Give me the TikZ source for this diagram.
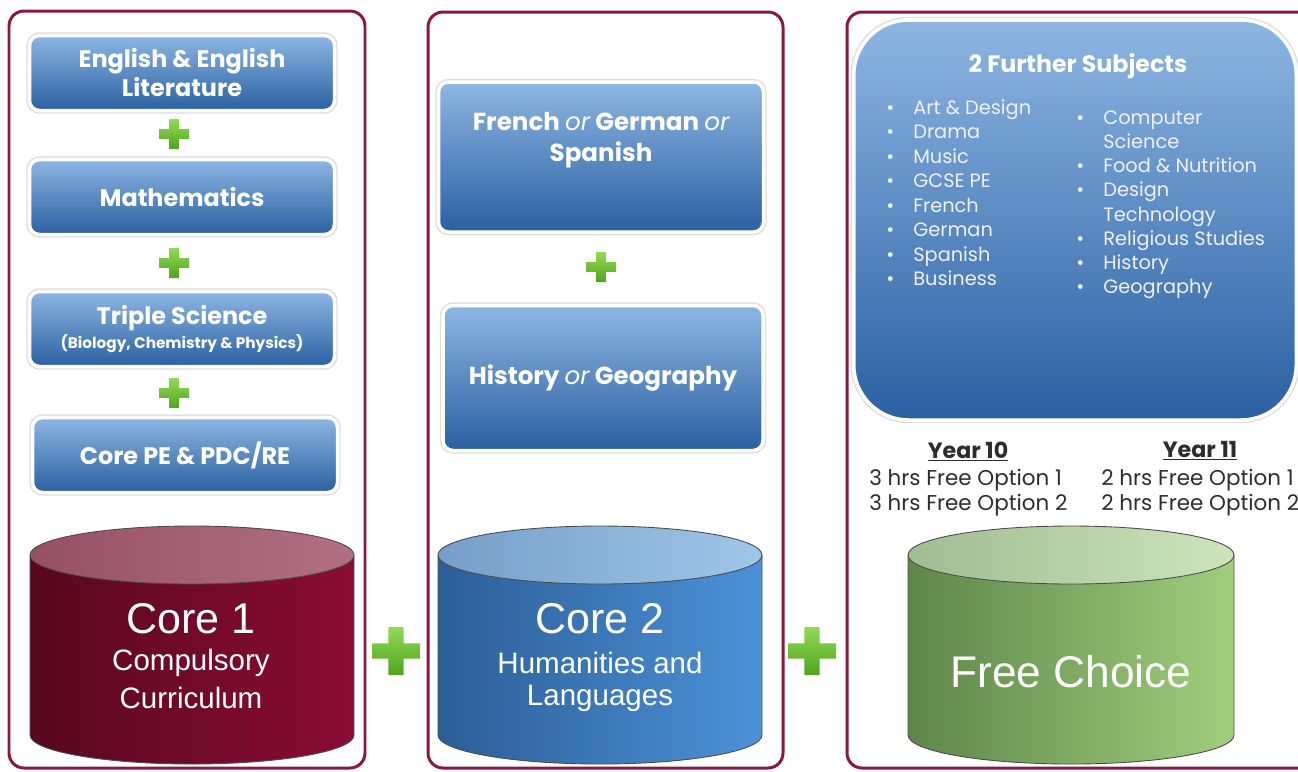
\documentclass[tikz,border=0pt]{standalone}
\usepackage{fontspec}
\setmainfont{Poppins}
\newfontfamily\arialfont{Liberation Sans}
\usepackage{tikz}
\usetikzlibrary{positioning, calc, shapes}

\definecolor{panelred}{RGB}{139,24,60}
\definecolor{boxtop}{RGB}{141,182,226}
\definecolor{boxmid}{RGB}{88,145,207}
\definecolor{boxbot}{RGB}{42,96,162}
\definecolor{plustop}{RGB}{146,218,86}
\definecolor{plusbot}{RGB}{80,165,30}
\definecolor{yeargray}{RGB}{45,45,45}
% drum colours: side left/right, top left/right
\definecolor{redsideL}{RGB}{88,8,30}
\definecolor{redsideR}{RGB}{138,12,52}
\definecolor{redtopL}{RGB}{150,80,102}
\definecolor{redtopR}{RGB}{178,112,132}
\definecolor{bluesideL}{RGB}{44,94,150}
\definecolor{bluesideR}{RGB}{76,146,216}
\definecolor{bluetopL}{RGB}{118,158,200}
\definecolor{bluetopR}{RGB}{160,198,232}
\definecolor{greensideL}{RGB}{94,134,74}
\definecolor{greensideR}{RGB}{160,206,124}
\definecolor{greentopL}{RGB}{160,188,146}
\definecolor{greentopR}{RGB}{206,228,188}

\tikzset{
	panel/.style={draw=panelred, line width=1.7pt, rounded corners=3mm},
	subject/.style={rectangle, rounded corners=2mm, top color=boxtop, middle color=boxmid, bottom color=boxbot,
		draw=white, line width=2pt, preaction={draw=black!13, line width=3.6pt},
		text=white, align=center, font=\bfseries\fontsize{13.6}{16.5}\selectfont,
		minimum width=61mm, minimum height=15mm},
	listitem/.style={anchor=base west, text=white!94!blue, font=\fontsize{11}{13}\selectfont, inner sep=0pt},
	yeartext/.style={anchor=base west, text=yeargray, font=\fontsize{12.2}{14}\selectfont, inner sep=0pt},
	yearhead/.style={anchor=base, text=yeargray, font=\bfseries\fontsize{12.6}{14}\selectfont, inner sep=0pt},
	drumtext/.style={text=white, font=\arialfont\fontsize{#1}{#1}\selectfont, inner sep=0pt},
	drumline/.style={draw=black!70, line width=0.5pt}
}

\newcommand{\greenplus}[3]{
	\shade[top color=plustop, bottom color=plusbot]
		(#1-#3,#2-#3*0.32) rectangle (#1+#3,#2+#3*0.32)
		(#1-#3*0.32,#2-#3) rectangle (#1+#3*0.32,#2+#3);
}

\newcommand{\drumshape}[3]{
	\shade[left color=#3sideL, right color=#3sideR] (#1-#2,555) -- (#1-#2,735)
		arc[start angle=180, end angle=0, x radius=#2, y radius=29] -- (#1+#2,555) -- cycle;
	\draw[drumline] (#1-#2,555) -- (#1-#2,735)
		arc[start angle=180, end angle=0, x radius=#2, y radius=29] -- (#1+#2,555);
	\shade[left color=#3topL, right color=#3topR] (#1,555) ellipse[x radius=#2, y radius=29];
	\draw[drumline] (#1,555) ellipse[x radius=#2, y radius=29];
}

\begin{document}
\begin{tikzpicture}[x=0.2mm, y=-0.2mm]
	\fill[white] (0,0) rectangle (1298,771);
	\useasboundingbox (0,0) rectangle (1298,771);
	\clip (0,0) rectangle (1298,771);
	
	\draw[panel] (9,11) rectangle (365,768);
	\draw[panel] (428,12) rectangle (783,768);
	\draw[panel] (847,12) rectangle (1340,768);
	
	% core 1 subjects
	\node[subject] (english) at (182,73) {English \& English\\Literature};
	\node[subject] (maths) at (182,197) {Mathematics};
	\node[subject] (science) at (182,329) {Triple Science\\[-3pt]{\fontsize{8.7}{10}\selectfont (Biology, Chemistry \& Physics)}};
	\node[subject] (corepe) at (185,455) {Core PE \& PDC/RE};
	
	\foreach \y in {134,263,393}
	{\greenplus{174}{\y}{15}}
	
	% core 2 subjects
	\node[subject, minimum width=65mm, minimum height=30mm] (languages) at (601,157) {};
	\node[text=white, align=center, font=\bfseries\fontsize{14}{18}\selectfont] (languagesname) at (601,140)
		{French {\mdseries\itshape or} German {\mdseries\itshape or}\\Spanish};
	\node[subject, minimum width=64mm, minimum height=29mm, font=\bfseries\fontsize{14}{18}\selectfont] (humanities) at (603,378)
		{History {\mdseries\itshape or} Geography};
	\greenplus{601}{267}{15}
	
	% free options
	\node[subject, rounded corners=11mm, minimum width=88.5mm, minimum height=80mm] (further) at (1075,220) {};
	\node[text=white, font=\bfseries\fontsize{13.5}{15}\selectfont] (furthertitle) at (1078,66) {2 Further Subjects};
	\foreach \t [count=\i] in {Art \& Design, Drama, Music, GCSE PE, French, German, Spanish, Business}
	\node[listitem] (left\i) at (886, 89.5+24.5*\i) {\makebox[5.4mm][l]{\textbullet}\t};
	\foreach \b/\t [count=\i] in {1/Computer, 0/Science, 1/Food \& Nutrition, 1/Design, 0/Technology,
		1/Religious Studies, 1/History, 1/Geography}
	\node[listitem] (right\i) at (1076, 100+24.2*\i) {\makebox[5.4mm][l]{\ifnum\b=1 \textbullet\fi}\t};
	
	\node[yearhead] (year10) at (968,458) {\underline{Year 10}};
	\node[yeartext] (opt1a) at (869,485) {3 hrs Free Option 1};
	\node[yeartext] (opt1b) at (869,510) {3 hrs Free Option 2};
	\node[yearhead] (year11) at (1200,457) {\underline{Year 11}};
	\node[yeartext] (opt2a) at (1101,485) {2 hrs Free Option 1};
	\node[yeartext] (opt2b) at (1101,510) {2 hrs Free Option 2};
	
	% the three cores
	\drumshape{192}{162}{red}
	\drumshape{600}{162}{blue}
	\drumshape{1071}{163}{green}
	
	\node[drumtext=24.5] (core1) at (191,619) {Core 1};
	\node[drumtext=16.8] (core1a) at (191,663) {Compulsory};
	\node[drumtext=16.8] (core1b) at (191,698) {Curriculum};
	\node[drumtext=24.5] (core2) at (600,619) {Core 2};
	\node[drumtext=16.8] (core2a) at (600,663) {Humanities and};
	\node[drumtext=16.8] (core2b) at (600,698) {Languages};
	\node[drumtext=25.2] (free) at (1071,672) {Free Choice};
	
	\greenplus{396}{651}{24}
	\greenplus{812}{651}{24}
\end{tikzpicture}
\end{document}
